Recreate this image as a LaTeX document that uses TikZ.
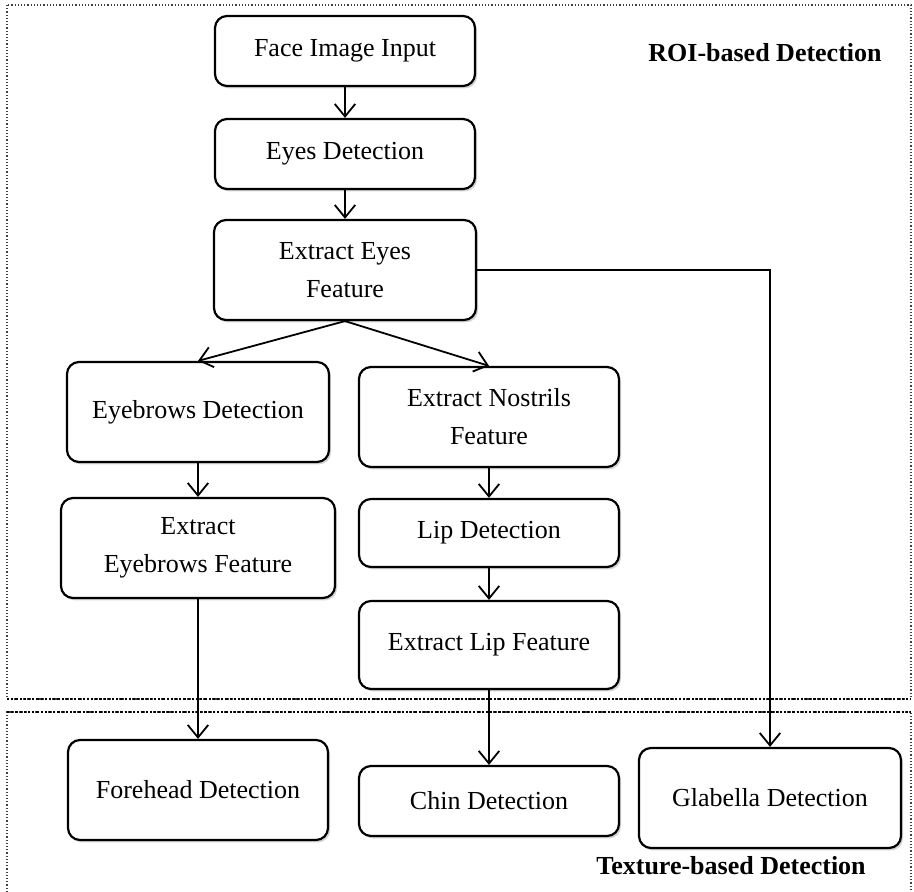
\documentclass[tikz,border=0pt]{standalone}
\usepackage{fontspec}
\setmainfont{Liberation Serif}
\usepackage{xcolor}
\usepackage{tikz}
\usetikzlibrary{arrows.meta, shadows}

\begin{document}
\begin{tikzpicture}[x=0.5pt,y=-0.5pt,
%
    box/.style={draw,line width=1.1pt,rounded corners=6pt,fill=white,align=center,
        minimum width=130pt,minimum height=35pt,font=\fontsize{13}{19}\selectfont,
        drop shadow={shadow xshift=1pt,shadow yshift=-1.2pt,opacity=0.35}},
    Arr/.style={line width=0.9pt,-{Straight Barb[length=2.2mm,width=3.6mm]}},
    region/.style={densely dotted,line width=0.6pt,black!75},
    sep/.style={densely dotted,line width=1.1pt},
    title/.style={font=\bfseries\fontsize{13}{15}\selectfont},
                        ]
    \useasboundingbox (0,0) rectangle (914,892);

    % dotted areas
    \draw[region] (7,5) rectangle (911,699);
    \draw[region] (7,892) -- (7,712) -- (911,712) -- (911,892);
    \draw[sep] (7,699) -- (911,699);
    \draw[sep] (7,712) -- (911,712);

    \node[box] (face_node) at (345,51) {Face Image Input};
    \node[box] (eyes_node) at (345,154) {Eyes Detection};
    \node[box,minimum width=131pt,minimum height=50pt] (exeyes_node) at (345,270) {Extract Eyes\\Feature};

    \node[box,minimum width=131pt,minimum height=50pt] (brows_node) at (198,412) {Eyebrows Detection};
    \node[box,minimum width=137pt,minimum height=50pt] (exbrows_node) at (198,548) {Extract\\Eyebrows Feature};
    \node[box,minimum height=50pt] (forehead_node) at (198,790) {Forehead Detection};

    \node[box,minimum height=50pt] (nostrils_node) at (489,417) {Extract Nostrils\\Feature};
    \node[box,minimum height=34pt] (lip_node) at (489,533) {Lip Detection};
    \node[box,minimum height=44pt] (exlip_node) at (489,645) {Extract Lip Feature};
    \node[box] (chin_node) at (489,801) {Chin Detection};

    \node[box,minimum width=131pt,minimum height=50pt] (glabella_node) at (770,798) {Glabella Detection};

    \node[title] (roi_node) at (765,53) {ROI-based Detection};
    \node[title] (texture_node) at (731,866) {Texture-based Detection};

    \draw[Arr] (face_node) -- (eyes_node);
    \draw[Arr] (eyes_node) -- (exeyes_node);
    \draw[Arr] (exeyes_node.south) -- (brows_node.north);
    \draw[Arr] (exeyes_node.south) -- (nostrils_node.north);
    \draw[Arr] (exeyes_node.east) -| (glabella_node.north);
    \draw[Arr] (brows_node) -- (exbrows_node);
    \draw[Arr] (exbrows_node) -- (forehead_node);
    \draw[Arr] (nostrils_node) -- (lip_node);
    \draw[Arr] (lip_node) -- (exlip_node);
    \draw[Arr] (exlip_node) -- (chin_node);

\end{tikzpicture}
\end{document}
